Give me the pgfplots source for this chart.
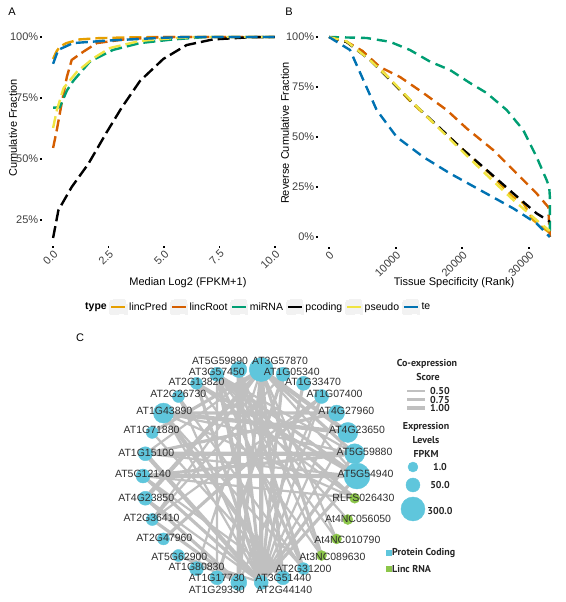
\documentclass[border=0pt]{standalone}
\usepackage{fontspec}
\setmainfont{Liberation Sans}
\newfontfamily\legfont{PT Sans}
\usepackage{pgfplots}
\usepackage{pgfplotstable}
\pgfplotsset{compat=1.18}
\definecolor{cPred}{HTML}{E69F00}
\definecolor{cRoot}{HTML}{D55E00}
\definecolor{cMiR}{HTML}{009E73}
\definecolor{cPcod}{HTML}{000000}
\definecolor{cPseu}{HTML}{F0E442}
\definecolor{cTe}{HTML}{0072B2}
\definecolor{pcblue}{RGB}{95,198,220}
\definecolor{lincgreen}{RGB}{140,198,74}
\definecolor{edgegray}{RGB}{192,192,192}

\pgfplotstableread{
name x y lx ly r
AT5G54940 1.000 0.000 1.08 0.02 13
AT5G59880 0.978 0.208 1.07 0.23 10
AT4G23650 0.914 0.407 1.00 0.43 10
AT4G27960 0.809 0.588 0.90 0.61 8
AT1G07400 0.669 0.743 0.79 0.77 7
AT1G33470 0.500 0.866 0.59 0.88 7
AT1G05340 0.309 0.951 0.39 0.97 7
AT3G57870 0.105 0.995 0.28 1.08 12
AT5G59890 -0.105 0.995 -0.28 1.08 8
AT3G57450 -0.309 0.951 -0.31 0.97 7
AT2G13820 -0.500 0.866 -0.50 0.88 6
AT2G26730 -0.669 0.743 -0.67 0.77 6
AT1G43890 -0.809 0.588 -0.80 0.61 10
AT1G71880 -0.914 0.407 -0.92 0.43 6
AT1G15100 -0.978 0.208 -0.97 0.22 7
AT5G12140 -1.000 0.000 -1.00 0.02 7
AT4G23850 -0.978 -0.208 -0.97 -0.20 7
AT2G36410 -0.914 -0.407 -0.92 -0.39 6
AT2G47960 -0.809 -0.588 -0.80 -0.58 6
AT5G62900 -0.669 -0.743 -0.66 -0.76 6
AT1G80830 -0.500 -0.866 -0.50 -0.85 7
AT1G17730 -0.309 -0.951 -0.31 -0.95 7
AT1G29330 -0.105 -0.995 -0.31 -1.06 8
AT2G44140 0.105 -0.995 0.32 -1.06 7
AT3G51440 0.309 -0.951 0.31 -0.95 7
AT2G31200 0.500 -0.866 0.50 -0.87 6
}\pcnodes

\pgfplotstableread{
name x y lx ly r
At3NC089630 0.669 -0.743 0.77 -0.76 5
At4NC010790 0.809 -0.588 0.91 -0.60 5
At4NC056050 0.914 -0.407 1.01 -0.40 5
RLFS026430 0.978 -0.208 1.06 -0.20 5
}\lincnodes

\pgfplotsset{
  ggdash/.style={line width=2.4pt, dash pattern=on 12pt off 5pt},
  ggdashb/.style={line width=2.4pt, dash pattern=on 10pt off 6pt},
  ggaxis/.style={scale only axis, axis lines*=left, axis line style={draw=none},
    tick align=outside, major tick length=1.6pt, tick style={black, line width=1.8pt},
    ticklabel style={font=\fontsize{11}{13}\selectfont, text=black!75},
    label style={font=\fontsize{11}{13}\selectfont},
    xticklabel style={rotate=45, anchor=north east, inner sep=1pt},
    yticklabel style={inner sep=2pt},
    scaled ticks=false,
    clip=false},
}

\begin{document}
\begin{tikzpicture}
\path[use as bounding box] (0pt,0pt) rectangle (565pt,-602pt);

\node[font=\fontsize{11}{13}\selectfont] at (12pt,-12pt) {A};
\node[font=\fontsize{11}{13}\selectfont] at (289pt,-12pt) {B};
\node[font=\fontsize{11}{13}\selectfont] at (80pt,-338pt) {C};

% ---------------- Panel A
\begin{axis}[ggaxis,
  at={(42pt,-246pt)}, anchor=south west, width=244pt, height=219pt,
  xmin=-0.5, xmax=10.5, ymin=0.143, ymax=1.041,
  xtick={0,2.5,5,7.5,10}, xticklabels={0.0,2.5,5.0,7.5,10.0},
  ytick={0.25,0.5,0.75,1}, yticklabels={25\%,50\%,75\%,100\%},
  xlabel={Median Log2 (FPKM+1)}, ylabel={Cumulative Fraction},
  xlabel style={at={(axis description cs:0.598,-0.169)}, anchor=center},
  ylabel style={at={(axis description cs:-0.119,0.539)}, anchor=center},
  legend columns=-1,
  legend style={at={(axis description cs:0.17,-0.2785)}, anchor=west, draw=none, fill=none,
    font=\fontsize{10.5}{12}\selectfont, inner sep=0pt,
    nodes={inner sep=1.5pt},
    /tikz/every even column/.append style={column sep=1pt}},
  legend cell align=left,
  legend image code/.code={\fill[black!5] (0pt,-7pt) rectangle (16pt,7pt);
    \draw[#1, solid, line width=2.4pt] (1pt,0pt) -- (15pt,0pt);},
]
\addlegendimage{empty legend}\addlegendentry{\textbf{type}}
\addplot[cPred, ggdash] coordinates {(0,0.91)(0.15,0.94)(0.3,0.96)(0.6,0.975)(1.2,0.99)(2,0.995)(3.2,0.998)(5,1)(10,1)};
\addlegendentry{lincPred}
\addplot[cRoot, ggdash] coordinates {(0,0.545)(0.17,0.62)(0.39,0.73)(0.62,0.836)(0.84,0.906)(1.37,0.94)(1.97,0.975)(3.2,0.99)(5,1)(10,1)};
\addlegendentry{lincRoot}
\addplot[cMiR, ggdash] coordinates {(0,0.71)(0.3,0.712)(0.62,0.78)(0.91,0.82)(1.67,0.9)(2.7,0.947)(3.92,0.975)(5.4,0.99)(6.9,1)(10,1)};
\addlegendentry{miRNA}
\addplot[cPcod, ggdash] coordinates {(0,0.176)(0.24,0.29)(0.84,0.385)(1.59,0.48)(2.42,0.61)(3.09,0.71)(3.92,0.82)(4.97,0.91)(6.02,0.967)(7.2,0.99)(8.9,0.999)(10,1)};
\addlegendentry{pcoding}
\addplot[cPseu, ggdash] coordinates {(0,0.627)(0.17,0.70)(0.47,0.79)(1.07,0.857)(1.82,0.913)(2.57,0.955)(3.92,0.984)(5.4,0.995)(6.5,1)(10,1)};
\addlegendentry{pseudo}
\addplot[cTe, ggdash] coordinates {(0,0.89)(0.23,0.947)(0.9,0.975)(2.4,0.985)(5,0.997)(6,1)(10,1)};
\addlegendentry{te}
\end{axis}

% ---------------- Panel B
\begin{axis}[ggaxis,
  at={(318pt,-247pt)}, anchor=south west, width=243pt, height=220pt,
  xmin=-1650, xmax=34800, ymin=-0.05, ymax=1.05,
  xtick={0,10000,20000,30000}, xticklabels={0,10000,20000,30000},
  ytick={0,0.25,0.5,0.75,1}, yticklabels={0\%,25\%,50\%,75\%,100\%},
  xlabel={Tissue Specificity (Rank)}, ylabel={Reverse Cumulative Fraction},
  xlabel style={at={(axis description cs:0.560,-0.164)}, anchor=center},
  ylabel style={at={(axis description cs:-0.136,0.518)}, anchor=center},
]
\addplot[cPred, ggdashb] coordinates {(0,1)(2650,0.975)(5000,0.93)(8000,0.83)(12000,0.685)(16000,0.56)(20000,0.44)(24000,0.32)(27640,0.2)(29130,0.17)(30600,0.085)(33130,0.02)};
\addplot[cRoot, ggdashb] coordinates {(0,1)(2650,0.976)(5000,0.93)(7650,0.85)(10650,0.80)(14150,0.72)(17650,0.635)(20650,0.543)(24630,0.435)(28140,0.318)(31140,0.218)(32880,0.15)(33130,0.0)};
\addplot[cMiR, ggdashb] coordinates {(0,1)(5650,0.995)(9150,0.976)(12150,0.935)(15150,0.877)(18150,0.835)(21150,0.77)(23650,0.72)(26650,0.635)(29130,0.535)(31140,0.40)(32640,0.285)(33030,0.25)(33130,0.2)(33130,0.02)};
\addplot[cPcod, ggdashb] coordinates {(0,1)(2650,0.975)(6150,0.885)(9150,0.785)(12650,0.668)(16150,0.56)(19650,0.45)(23650,0.335)(27640,0.218)(31140,0.118)(33130,0.077)};
\addplot[cPseu, ggdashb] coordinates {(0,1)(2650,0.978)(6150,0.885)(9150,0.79)(12650,0.67)(16150,0.555)(19650,0.44)(23650,0.31)(27640,0.185)(31640,0.07)(33130,0.03)};
\addplot[cTe, ggdashb] coordinates {(0,1)(3150,0.935)(5150,0.785)(7150,0.635)(10150,0.50)(14150,0.40)(18150,0.318)(22650,0.235)(27640,0.143)(31140,0.068)(33130,0.0)};
\end{axis}

% ---------------- Panel C network
\begin{axis}[hide axis, clip=false, x=107pt, y=107pt,
  xmin=-1.25, xmax=1.75, ymin=-1.2, ymax=1.3,
  at={(116.25pt,-604.4pt)}, anchor=south west]
% edges, weight 0.50
\addplot[edgegray, line width=2.2pt, unbounded coords=jump, forget plot] table {
x y
0.105 -0.995
0.669 0.743
nan nan
0.105 -0.995
-0.978 -0.208
nan nan
0.105 -0.995
-0.809 0.588
nan nan
0.105 -0.995
0.914 0.407
nan nan
0.105 -0.995
0.809 0.588
nan nan
0.105 -0.995
-0.669 0.743
nan nan
0.105 -0.995
-0.669 -0.743
nan nan
0.105 0.995
-0.978 0.208
nan nan
0.105 0.995
-0.914 -0.407
nan nan
0.105 0.995
1.000 0.000
nan nan
0.105 0.995
0.809 -0.588
nan nan
0.105 0.995
-0.500 -0.866
nan nan
-0.309 0.951
0.978 0.208
nan nan
-0.309 0.951
0.914 -0.407
nan nan
-0.309 0.951
-0.309 -0.951
nan nan
-0.105 0.995
0.309 -0.951
nan nan
-0.105 0.995
0.669 -0.743
nan nan
-0.809 0.588
0.978 0.208
nan nan
-0.978 0.208
1.000 0.000
nan nan
-1.000 0.000
0.978 -0.208
nan nan
-0.500 0.866
0.978 -0.208
nan nan
-0.914 -0.407
0.669 0.743
nan nan
-0.669 -0.743
-0.105 -0.995
nan nan
0.669 0.743
-0.105 -0.995
nan nan
0.309 0.951
-0.914 -0.407
nan nan
0.500 -0.866
-0.669 0.743
nan nan
0.500 -0.866
-0.809 0.588
nan nan
0.669 -0.743
-0.500 0.866
nan nan
0.809 -0.588
-0.309 0.951
nan nan
0.978 -0.208
-0.809 0.588
nan nan
0.309 -0.951
-0.914 0.407
nan nan
0.309 -0.951
-1.000 0.000
};
% edges, weight 0.75
\addplot[edgegray, line width=3.2pt, unbounded coords=jump, forget plot] table {
x y
0.105 -0.995
-0.105 0.995
nan nan
0.105 -0.995
0.309 0.951
nan nan
0.105 -0.995
-0.500 0.866
nan nan
0.105 -0.995
0.500 0.866
nan nan
0.105 -0.995
-1.000 0.000
nan nan
0.105 -0.995
0.978 0.208
nan nan
0.105 -0.995
1.000 0.000
nan nan
0.105 0.995
-0.914 0.407
nan nan
0.105 0.995
0.978 0.208
nan nan
0.105 0.995
0.669 -0.743
nan nan
0.105 0.995
-0.105 -0.995
nan nan
-0.309 0.951
1.000 0.000
nan nan
-0.309 0.951
0.978 -0.208
nan nan
-0.309 0.951
0.500 -0.866
nan nan
-0.809 0.588
0.809 0.588
nan nan
-0.978 0.208
0.809 0.588
nan nan
-1.000 0.000
0.978 0.208
nan nan
-0.500 0.866
1.000 0.000
nan nan
-0.978 -0.208
-0.105 -0.995
nan nan
-0.914 -0.407
-0.105 -0.995
nan nan
0.309 -0.951
0.105 0.995
nan nan
-0.105 0.995
0.500 -0.866
nan nan
0.309 0.951
-0.309 -0.951
nan nan
0.669 0.743
-0.809 -0.588
};
% edges, weight 1.00
\addplot[edgegray, line width=4.3pt, unbounded coords=jump, forget plot] table {
x y
0.105 -0.995
0.105 0.995
nan nan
0.105 -0.995
-0.309 0.951
nan nan
0.105 0.995
0.914 0.407
nan nan
-0.809 0.588
0.914 0.407
nan nan
-1.000 0.000
1.000 0.000
nan nan
-0.978 0.208
0.978 0.208
nan nan
0.105 -0.995
-0.978 0.208
nan nan
0.309 -0.951
-0.809 0.588
nan nan
0.105 0.995
-0.978 -0.208
nan nan
-0.105 0.995
-0.105 -0.995
};
% nodes
\addplot[scatter, only marks, mark=*,
  scatter/use mapped color={draw=pcblue, fill=pcblue},
  visualization depends on={\thisrow{r} \as \nodesize},
  scatter/@pre marker code/.append style={/tikz/mark size=\nodesize pt}]
  table[x=x, y=y] {\pcnodes};
\addplot[scatter, only marks, mark=*,
  scatter/use mapped color={draw=lincgreen, fill=lincgreen},
  visualization depends on={\thisrow{r} \as \nodesize},
  scatter/@pre marker code/.append style={/tikz/mark size=\nodesize pt}]
  table[x=x, y=y] {\lincnodes};
% labels
\addplot[only marks, mark=*, mark size=0pt, draw=none, fill=none,
  nodes near coords, point meta=explicit symbolic,
  every node near coord/.style={anchor=center, inner sep=0pt, text=black!82,
    font=\fontsize{10.5}{12}\selectfont}] table[x=lx, y=ly, meta=name] {\pcnodes};
\addplot[only marks, mark=*, mark size=0pt, draw=none, fill=none,
  nodes near coords, point meta=explicit symbolic,
  every node near coord/.style={anchor=center, inner sep=0pt, text=black!82,
    font=\fontsize{10.5}{12}\selectfont}] table[x=lx, y=ly, meta=name] {\lincnodes};
% size legend circles
\addplot[only marks, mark=*, mark size=5pt, pcblue] coordinates {(1.523,0.084)};
\addplot[only marks, mark=*, mark size=7pt, pcblue] coordinates {(1.523,-0.084)};
\addplot[only marks, mark=*, mark size=12pt, pcblue] coordinates {(1.523,-0.308)};
\end{axis}

% network legend
\begin{scope}[every node/.style={font=\legfont\bfseries\fontsize{10}{11}\selectfont, text=black!85, inner sep=0pt}]
\node at (427pt,-364pt) {Co-expression};
\node at (428pt,-377pt) {Score};
\draw[edgegray, line width=2pt] (407pt,-391pt) -- (425pt,-391pt);
\draw[edgegray, line width=3pt] (407pt,-399pt) -- (425pt,-399pt);
\draw[edgegray, line width=4.5pt] (407pt,-408pt) -- (425pt,-408pt);
\node[anchor=west] at (430pt,-391pt) {0.50};
\node[anchor=west] at (430pt,-399.5pt) {0.75};
\node[anchor=west] at (430pt,-408pt) {1.00};
\node at (426pt,-427pt) {Expression};
\node at (426pt,-440pt) {Levels};
\node at (426pt,-454pt) {FPKM};
\node at (440pt,-467pt) {1.0};
\node at (440pt,-485pt) {50.0};
\node at (440pt,-511pt) {300.0};
\node[anchor=west] at (386pt,-553pt) {\textcolor{pcblue}{\rule{6pt}{6pt}}Protein Coding};
\node[anchor=west] at (386pt,-569pt) {\textcolor{lincgreen}{\rule{6pt}{6pt}}Linc RNA};
\end{scope}
\end{tikzpicture}
\end{document}
